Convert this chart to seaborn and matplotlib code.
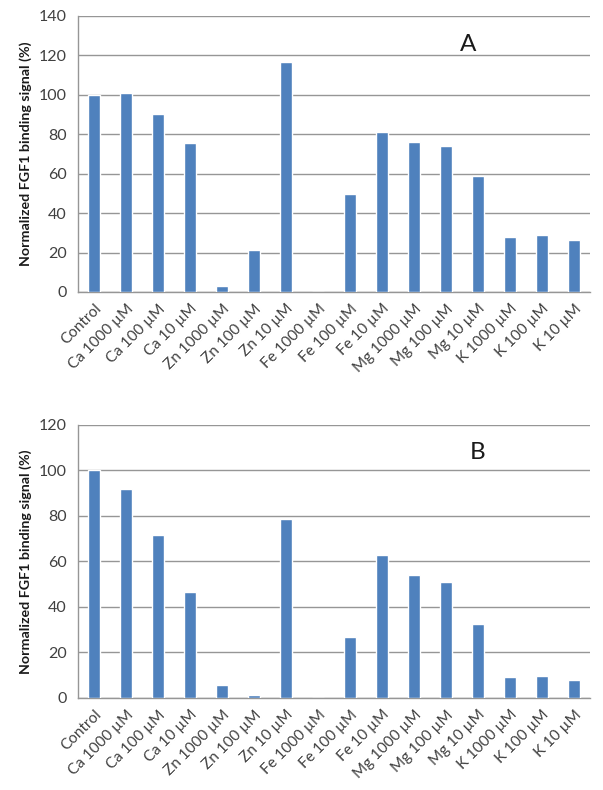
import numpy as np
import pandas as pd
import seaborn as sns
import matplotlib.pyplot as plt
from matplotlib.ticker import FixedLocator

conditions = ["Control", "Ca 1000 µM", "Ca 100 µM", "Ca 10 µM",
              "Zn 1000 µM", "Zn 100 µM", "Zn 10 µM",
              "Fe 1000 µM", "Fe 100 µM", "Fe 10 µM",
              "Mg 1000 µM", "Mg 100 µM", "Mg 10 µM",
              "K 1000 µM", "K 100 µM", "K 10 µM"]
signal_a = [100, 101, 90.5, 75.5, 3, 21.5, 116.5, 0, 49.5, 81, 76, 74, 59, 28, 29, 26.5]
signal_b = [100, 92, 71.5, 46.5, 5.5, 1.5, 78.5, 0, 27, 63, 54, 51, 32.5, 9, 9.5, 8]

sns.set_style("white")
plt.rcParams["font.family"] = ["Lato", "DejaVu Sans"]

bar_color = "#4f81bd"
grid_color = "#969696"
text_color = "#404040"

fig = plt.figure(figsize=(6.03, 7.9), dpi=100)
ax_a = fig.add_axes([0.1294, 0.6304, 0.849, 0.3494])
ax_b = fig.add_axes([0.1294, 0.1165, 0.849, 0.3456])

panels = [
    (ax_a, signal_a, 140, "A", 11.7, 125.3),
    (ax_b, signal_b, 120, "B", 12.0, 108),
]

for ax, vals, ymax, letter, lx, ly in panels:
    df = pd.DataFrame({"condition": conditions, "signal": vals})
    sns.barplot(data=df, x="condition", y="signal", color=bar_color,
                width=0.38, saturation=1, ax=ax, zorder=3)
    ax.set_ylim(0, ymax)
    ax.set_yticks(np.arange(0, ymax + 1, 20))
    ax.set_xlim(-0.5, len(conditions) - 0.5)
    ax.yaxis.grid(True, color=grid_color, linewidth=1.0, zorder=0)
    ax.set_axisbelow(True)
    for side in ["top", "right"]:
        ax.spines[side].set_visible(False)
    for side in ["bottom", "left"]:
        ax.spines[side].set_color(grid_color)
        ax.spines[side].set_linewidth(1.0)
    ax.tick_params(axis="y", length=4, width=1.0, color=grid_color,
                   labelsize=11.5, labelcolor=text_color, pad=4)
    ax.tick_params(axis="x", which="major", length=0, labelsize=11,
                   labelcolor=text_color, pad=7)
    ax.xaxis.set_minor_locator(FixedLocator(np.arange(-0.5, len(conditions), 1)))
    ax.tick_params(axis="x", which="minor", length=5, color=grid_color, width=1.0)
    for lab in ax.get_xticklabels():
        lab.set_rotation(45)
        lab.set_ha("right")
        lab.set_va("top")
        lab.set_rotation_mode("anchor")
    ax.set_xlabel("")
    ax.set_ylabel("Normalized FGF1 binding signal (%)", fontsize=10.3,
                  fontweight="bold", color="#1a1a1a", labelpad=5)
    ax.text(lx, ly, letter, fontsize=17.5, color="#1a1a1a", ha="center", va="center")

fig.savefig("out.png", dpi=100)
